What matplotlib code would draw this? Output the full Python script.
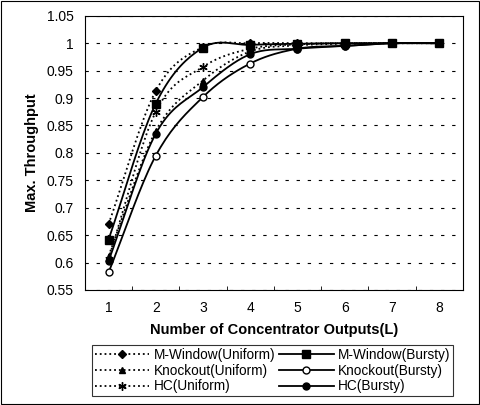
import numpy as np
import matplotlib
matplotlib.use('Agg')
import matplotlib.pyplot as plt

plt.rcParams['font.family'] = ['Liberation Sans', 'DejaVu Sans']

# data
outputs = [1, 2, 3, 4, 5, 6, 7, 8]
mw_uniform = [0.670, 0.913, 0.993, 1.000, 1.000, 1.000, 1.000, 1.000]
ko_uniform = [0.612, 0.840, 0.932, 0.985, 0.996, 0.999, 1.000, 1.000]
hc_uniform = [0.607, 0.875, 0.957, 0.990, 0.998, 1.000, 1.000, 1.000]
mw_bursty = [0.642, 0.890, 0.992, 0.997, 0.999, 1.000, 1.000, 1.000]
ko_bursty = [0.582, 0.795, 0.902, 0.963, 0.990, 0.995, 1.000, 1.000]
hc_bursty = [0.603, 0.835, 0.920, 0.980, 0.990, 0.995, 1.000, 1.000]


def smooth(x, y, n=20):
    # Catmull-Rom curve through the points (like Excel smoothed lines)
    x = np.asarray(x, float)
    y = np.asarray(y, float)
    px = np.concatenate([[2 * x[0] - x[1]], x, [2 * x[-1] - x[-2]]])
    py = np.concatenate([[2 * y[0] - y[1]], y, [2 * y[-1] - y[-2]]])
    xs, ys = [], []
    t = np.linspace(0, 1, n)
    for i in range(1, len(px) - 2):
        for p, out in ((px, xs), (py, ys)):
            p0, p1, p2, p3 = p[i - 1], p[i], p[i + 1], p[i + 2]
            out.extend(0.5 * (2 * p1 + (-p0 + p2) * t
                              + (2 * p0 - 5 * p1 + 4 * p2 - p3) * t ** 2
                              + (-p0 + 3 * p1 - 3 * p2 + p3) * t ** 3))
    return xs, ys


fig = plt.figure(figsize=(4.8, 4.05), dpi=100)
ax = fig.add_axes([0.177, 0.284, 0.787, 0.677])

series = [
    ('M-Window(Uniform)', mw_uniform, ':', 'D', 'black', 4),
    ('Knockout(Uniform)', ko_uniform, ':', '^', 'black', 5),
    ('HC(Uniform)', hc_uniform, ':', (6, 2, 0), 'black', 6),
    ('M-Window(Bursty)', mw_bursty, '-', 's', 'black', 6),
    ('Knockout(Bursty)', ko_bursty, '-', 'o', 'white', 5),
    ('HC(Bursty)', hc_bursty, '-', 'o', 'black', 5),
]

handles = []
for name, vals, ls, mk, fc, ms in series:
    sx, sy = smooth(outputs, vals)
    ax.plot(sx, sy, color='black', ls=ls, lw=1.3)
    ax.plot(outputs, vals, ls='none', marker=mk, ms=ms, mfc=fc,
            mec='black', mew=1.0)
    h, = ax.plot([], [], color='black', ls=ls, lw=1.3, marker=mk, ms=ms,
                 mfc=fc, mec='black', mew=1.0, label=name)
    handles.append(h)

ax.set_xlim(0.5, 8.5)
ax.set_ylim(0.55, 1.05)
ax.set_yticks(np.arange(0.55, 1.051, 0.05))
ax.set_yticklabels(['0.55', '0.6', '0.65', '0.7', '0.75', '0.8', '0.85',
                    '0.9', '0.95', '1', '1.05'])
ax.set_xticks(outputs)
ax.set_xticks(np.arange(1.5, 8.5, 1), minor=True)
ax.tick_params(axis='x', which='major', length=0, labelsize=10, pad=8)
ax.tick_params(axis='x', which='minor', length=3, direction='in')
ax.tick_params(axis='y', length=0, labelsize=10, pad=8)
ax.yaxis.grid(True, ls=(0, (3, 7)), color='black', lw=0.8)

ax.set_xlabel('Number of Concentrator Outputs(L)', fontsize=10.5,
              fontweight='bold', labelpad=6)
ax.set_ylabel('Max. Throughput', fontsize=10.5, fontweight='bold',
              labelpad=6)

leg = fig.legend(handles=handles, ncol=2, loc='lower left',
                 bbox_to_anchor=(0.178, 0.005), fontsize=9.8, frameon=True,
                 fancybox=False, edgecolor='black', handlelength=4,
                 columnspacing=0.3, handletextpad=0.3, labelspacing=0.12,
                 borderpad=0.2)
leg.get_frame().set_linewidth(0.8)

# outer frame around the figure
fig.patches.append(plt.Rectangle((0.003, 0.003), 0.994, 0.994,
                                 transform=fig.transFigure, fill=False,
                                 ec='black', lw=0.8))

fig.savefig('out.png', dpi=100)
